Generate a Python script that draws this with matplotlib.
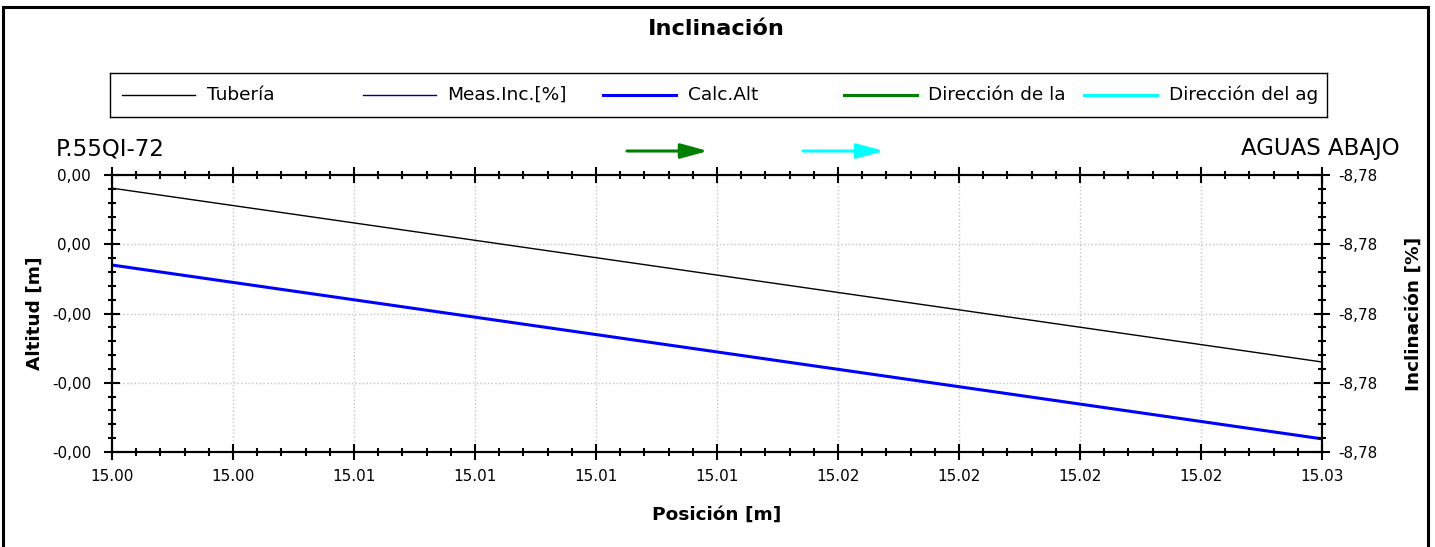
import numpy as np
import matplotlib.pyplot as plt
from matplotlib.patches import Rectangle, FancyArrowPatch
from matplotlib.transforms import Bbox, TransformedBbox
from matplotlib.ticker import FixedLocator, AutoMinorLocator, FuncFormatter

# data
posicion = [15.000, 15.025]
tuberia = [0.00081, -0.0017]
calc_alt = [-0.0003, -0.00281]
x_ticks = [15.0, 15.0025, 15.005, 15.0075, 15.01, 15.0125, 15.015, 15.0175, 15.02, 15.0225, 15.025]
x_labels = ["15.00", "15.00", "15.01", "15.01", "15.01", "15.01",
            "15.02", "15.02", "15.02", "15.02", "15.03"]
y_ticks = [0.001, 0.0, -0.001, -0.002, -0.003]
y2_ticks = [-8.7796, -8.7798, -8.78, -8.7802, -8.7804]

leg_names = ["Tubería", "Meas.Inc.[%]", "Calc.Alt", "Dirección de la", "Dirección del agua"]
leg_colors = ["black", "#000080", "#0000ff", "#008000", "#00ffff"]
leg_widths = [1.0, 1.0, 2.2, 2.2, 2.2]

W, H = 1435, 547
fig = plt.figure(figsize=(W / 100, H / 100), dpi=100)

def fx(px):
    return px / W

def fy(py):
    return 1 - py / H

# outer frame
fig.add_artist(Rectangle((fx(3), fy(560)), fx(1425), 553 / H, transform=fig.transFigure,
                         fill=False, lw=2.2, ec="black", clip_on=False))

fig.text(fx(716), fy(29), "Inclinación", ha="center", va="center",
         fontsize=16.2, fontweight="bold")

# legend drawn by hand so the last label gets clipped like the original
lax = fig.add_axes([fx(110), fy(117), fx(1217), 44 / H])
lax.set_xlim(0, 1217)
lax.set_ylim(0, 44)
lax.set_xticks([])
lax.set_yticks([])
for s in lax.spines.values():
    s.set_linewidth(1.0)
clip = TransformedBbox(Bbox([[0, 0], [1207, 44]]), lax.transData)
for i, (name, c, lw) in enumerate(zip(leg_names, leg_colors, leg_widths)):
    x0 = 12 + i * 240.5
    lax.plot([x0, x0 + 73], [22, 22], color=c, lw=lw)
    t = lax.text(x0 + 85, 22, name, va="center", ha="left", fontsize=13.3, clip_on=True)
    t.set_clip_box(clip)

fig.text(fx(56), fy(149), "P.55QI-72", ha="left", va="center", fontsize=16.5)
fig.text(fx(1400), fy(149), "AGUAS ABAJO", ha="right", va="center", fontsize=16.5)

for (xa, xb), c in zip([(627, 708), (803, 884)], ["#008000", "#00ffff"]):
    fig.add_artist(FancyArrowPatch((fx(xa), fy(151)), (fx(xb), fy(151)),
                                   transform=fig.transFigure,
                                   arrowstyle="-|>,head_length=1.65,head_width=0.45",
                                   mutation_scale=10, color=c, lw=2.2,
                                   shrinkA=0, shrinkB=0))

ax = fig.add_axes([fx(112), fy(452), fx(1210), 277 / H])
ax.plot(posicion, tuberia, color="black", lw=1.0)
ax.plot(posicion, calc_alt, color="#0000ff", lw=2.2)
ax.set_xlim(15.0, 15.025)
ax.set_ylim(-0.003, 0.001)
ax.xaxis.set_major_locator(FixedLocator(x_ticks))
ax.set_xticklabels(x_labels)
ax.xaxis.set_minor_locator(AutoMinorLocator(5))
ax.yaxis.set_major_locator(FixedLocator(y_ticks))
ax.yaxis.set_major_formatter(FuncFormatter(lambda v, p: f"{v:.2f}".replace(".", ",")))
ax.yaxis.set_minor_locator(AutoMinorLocator(5))
ax.grid(True, which="major", ls=":", color="#c4c4c4", lw=1.0)
ax.tick_params(which="major", direction="inout", length=12, width=1.5, labelsize=11,
               top=True)
ax.tick_params(axis="x", which="major", pad=6)
ax.tick_params(axis="y", which="major", pad=9)
ax.tick_params(which="minor", direction="inout", length=6, width=1.5, top=True)
for s in ax.spines.values():
    s.set_linewidth(1.5)
ax.set_xlabel("Posición [m]", fontsize=13.3, fontweight="bold", labelpad=16)
ax.set_ylabel("Altitud [m]", fontsize=13.3, fontweight="bold", labelpad=6)

ax2 = ax.twinx()
ax2.set_ylim(-8.7804, -8.7796)
ax2.yaxis.set_major_locator(FixedLocator(y2_ticks))
ax2.yaxis.set_major_formatter(FuncFormatter(lambda v, p: f"{v:.2f}".replace(".", ",")))
ax2.yaxis.set_minor_locator(AutoMinorLocator(5))
ax2.tick_params(which="major", direction="inout", length=12, width=1.5, labelsize=11, pad=5.5)
ax2.tick_params(which="minor", direction="inout", length=6, width=1.5)
ax2.set_ylabel("Inclinación [%]", fontsize=13.3, fontweight="bold", labelpad=20)
for s in ax2.spines.values():
    s.set_linewidth(1.5)

fig.savefig("out.png", dpi=100)
